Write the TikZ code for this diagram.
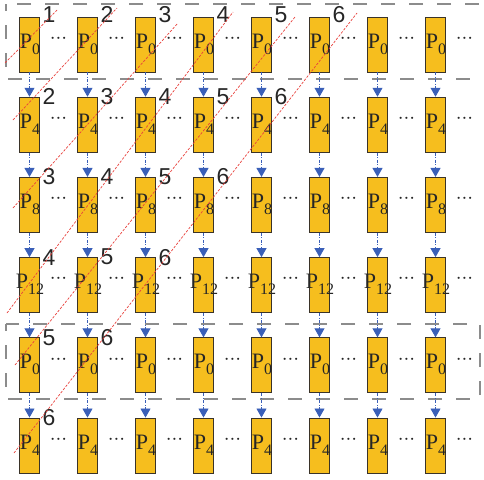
\documentclass[tikz,border=0pt]{standalone}
\usepackage{fontspec}
\setmainfont{Liberation Serif}
\newfontfamily\numfont{Liberation Sans}
\usetikzlibrary{arrows.meta}
\definecolor{boxfill}{HTML}{F6BE1E}
\definecolor{boxline}{HTML}{3A3328}
\definecolor{flowblue}{HTML}{3A5FB8}
\definecolor{framegrey}{HTML}{8C8C8C}
\definecolor{diagred}{HTML}{E8413C}
\begin{document}
\begin{tikzpicture}[x=1pt,y=-1pt,
  pbox/.style={draw=boxline, fill=boxfill, line width=0.9pt, minimum width=20.5pt, minimum height=55pt, inner sep=0pt},
  plabel/.style={anchor=base, inner sep=0pt, text=black!85, font=\fontsize{22}{22}\selectfont},
  dotsym/.style={anchor=base, inner sep=0pt, text=black!85, font=\fontsize{21}{21}\selectfont},
  num/.style={inner sep=0pt, text=black!85, font=\numfont\fontsize{23}{23}\selectfont},
  flow/.style={draw=flowblue, line width=0.8pt, dash pattern=on 3pt off 1.5pt on 1pt off 1.5pt, -{Triangle[width=10pt,length=9pt,fill=flowblue]}},
  frame/.style={draw=framegrey, line width=1.4pt, dash pattern=on 14pt off 14pt, dash phase=7pt},
  diag/.style={draw=diagred, line width=0.7pt, dash pattern=on 2.5pt off 1.5pt}]
\useasboundingbox (0,0) rectangle (484,479);
\clip (0,0) rectangle (484,479);
% frames
\draw[frame] (6,4) rectangle (500,79);
\draw[frame] (6,324) rectangle (480,399);
% boxes
\foreach \r/\s in {1/0,2/4,3/8,4/12,5/0,6/4}{
  \foreach \c in {1,...,8}{
    \pgfmathsetmacro\cx{29.5+58*(\c-1)}
    \pgfmathsetmacro\ty{17+80.2*(\r-1)}
    \node[pbox] (b-\r-\c) at (\cx,\ty+27.5) {};
    \node[plabel] (l-\r-\c) at (\cx+0.5,\ty+31) {P\raisebox{-6pt}{\fontsize{16}{16}\selectfont\s}};
    \node[dotsym] (d-\r-\c) at (\cx+29,\ty+26.3) {${\cdotp}{\cdotp}{\cdotp}$};
  }
}
% arrows
\foreach \r in {1,...,5}{
  \pgfmathtruncatemacro\n{\r+1}
  \foreach \c in {1,...,8}{
    \draw[flow] (b-\r-\c.south) -- (b-\n-\c.north);
  }
}
% numbers
\foreach \r in {1,...,6}{
  \foreach \c in {1,...,6}{
    \pgfmathtruncatemacro\k{\r+\c-1}
    \pgfmathsetmacro\cx{29.5+58*(\c-1)+19.5}
    \pgfmathsetmacro\ty{17+80.2*(\r-1)-(\r==1?2.5:0.5)}
    \ifnum\k<7
      \node[num] (n-\r-\c) at (\cx,\ty) {\k};
    \fi
  }
}
% diagonal red lines
\draw[diag] (5,63) -- (57,10);
\draw[diag] (13,120) -- (117,8);
\draw[diag] (13,208) -- (178,23);
\draw[diag] (7,313) -- (233,12);
\draw[diag] (15,365) -- (295,17);
\draw[diag] (14,453) -- (357,13);
\end{tikzpicture}
\end{document}
